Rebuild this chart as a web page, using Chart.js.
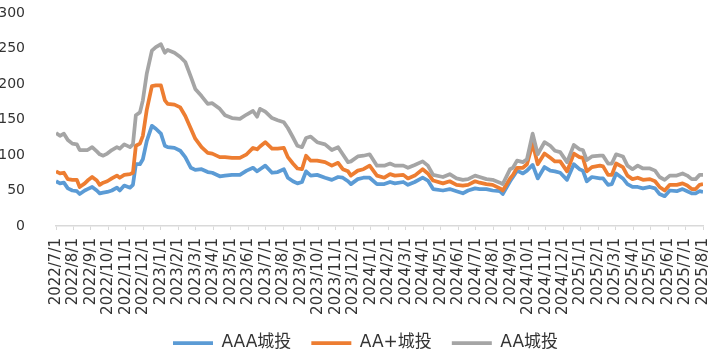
<!DOCTYPE html>
<html><head><meta charset="utf-8">
<script src="https://cdn.jsdelivr.net/npm/chart.js@4"></script>
<style>html,body{margin:0;padding:0;background:#fff}</style>
</head><body>
<canvas id="c" width="719" height="355"></canvas>
<script>
const dates = [
'2022-07-01','2022-07-08','2022-07-15','2022-07-22','2022-07-30','2022-08-07','2022-08-12','2022-08-21','2022-08-26',
'2022-09-03','2022-09-11','2022-09-16','2022-09-22','2022-09-29','2022-10-07','2022-10-16','2022-10-21','2022-10-29',
'2022-11-08','2022-11-13','2022-11-18','2022-11-25','2022-11-30','2022-12-07','2022-12-16','2022-12-23',
'2023-01-01','2023-01-08','2023-01-13','2023-01-25','2023-02-04','2023-02-12','2023-02-21','2023-02-28',
'2023-03-11','2023-03-22','2023-03-30','2023-04-12','2023-04-21','2023-05-03','2023-05-17','2023-05-29',
'2023-06-09','2023-06-16','2023-06-21','2023-06-30','2023-07-12','2023-07-22','2023-08-02','2023-08-09',
'2023-08-18','2023-08-26','2023-09-03','2023-09-10','2023-09-18','2023-09-29','2023-10-13','2023-10-25',
'2023-11-05','2023-11-13','2023-11-22','2023-11-27','2023-12-09','2023-12-19','2023-12-30',
'2024-01-12','2024-01-25','2024-02-04','2024-02-12','2024-02-26','2024-03-05','2024-03-17','2024-03-31',
'2024-04-09','2024-04-18','2024-05-05','2024-05-17','2024-05-29','2024-06-09','2024-06-18','2024-06-30',
'2024-07-08','2024-07-20','2024-07-31','2024-08-13','2024-08-18','2024-08-31','2024-09-05','2024-09-12',
'2024-09-22','2024-09-29','2024-10-09','2024-10-18','2024-10-30','2024-11-09','2024-11-17','2024-11-26',
'2024-12-08','2024-12-20','2024-12-30','2025-01-05','2025-01-12','2025-01-21','2025-02-04','2025-02-09',
'2025-02-17','2025-02-23','2025-03-02','2025-03-14','2025-03-22','2025-03-31','2025-04-09','2025-04-18',
'2025-04-30','2025-05-09','2025-05-17','2025-05-26','2025-06-04','2025-06-16','2025-06-26','2025-07-04',
'2025-07-12','2025-07-19','2025-07-26','2025-08-01'];

const aaa = [
63,60,61,53,50,49,45,50,52,
55,50,46,47,48,50,54,50,57,
54,58,87,87,94,120,141,137,
130,113,111,110,106,97,82,79,
80,76,75,70,71,72,72,78,
82,77,80,85,75,76,80,68,
63,60,62,77,71,72,68,65,
69,68,63,59,66,68,68,
59,59,62,60,62,58,62,68,
64,52,50,52,49,46,50,53,
52,52,50,49,45,63,69,78,
74,78,86,67,83,78,77,75,
65,87,80,78,63,69,67,67,
58,59,74,67,59,55,55,53,
55,53,45,42,50,49,52,49,
46,46,49,48];

const aaPlus = [
77,74,75,66,65,65,55,60,64,
69,64,58,61,63,67,71,68,72,
73,75,113,116,127,164,197,198,
198,177,172,171,167,155,137,123,
111,103,102,97,97,96,96,101,
110,108,112,118,109,109,110,97,
88,81,80,99,92,92,90,85,
89,80,77,71,78,80,85,
71,68,73,71,72,67,71,80,
74,64,60,63,58,57,58,63,
61,59,58,53,50,67,72,82,
82,87,116,87,102,96,91,91,
77,102,97,96,77,83,85,84,
72,72,88,83,71,66,68,65,
66,63,55,50,58,58,60,57,
52,52,58,59];

const aa = [
131,127,130,121,116,115,107,107,107,
111,105,101,99,102,107,111,109,115,
111,115,156,160,177,215,247,252,
256,244,248,244,238,231,210,193,
183,172,173,165,156,152,151,157,
162,154,165,161,152,149,146,138,
125,113,111,124,126,118,115,107,
111,101,90,91,98,99,101,
85,85,88,85,85,82,86,91,
85,72,69,73,67,65,66,71,
69,66,65,61,59,80,82,92,
90,94,130,101,118,113,106,104,
90,114,108,107,93,98,99,99,
88,88,101,98,85,80,85,81,
81,78,69,65,71,71,74,71,
66,66,72,72];

const monthLabels = [
'2022/7/1','2022/8/1','2022/9/1','2022/10/1','2022/11/1','2022/12/1',
'2023/1/1','2023/2/1','2023/3/1','2023/4/1','2023/5/1','2023/6/1','2023/7/1','2023/8/1','2023/9/1','2023/10/1','2023/11/1','2023/12/1',
'2024/1/1','2024/2/1','2024/3/1','2024/4/1','2024/5/1','2024/6/1','2024/7/1','2024/8/1','2024/9/1','2024/10/1','2024/11/1','2024/12/1',
'2025/1/1','2025/2/1','2025/3/1','2025/4/1','2025/5/1','2025/6/1','2025/7/1','2025/8/1'];

const seriesNames = ['AAA城投','AA+城投','AA城投'];
const seriesColors = ['#5B9BD5','#ED7D31','#A5A5A5'];
const yTicks = [0,50,100,150,200,250,300];

function monthPos(s){
  const [y,m,d] = s.split('-').map(Number);
  const dim = new Date(y, m, 0).getDate();
  return (y-2022)*12 + (m-7) + (d-1)/dim;
}
const toPts = arr => arr.map((v,i)=>({x: monthPos(dates[i]), y: v}));

const FONT = '"DejaVu Sans","Noto Sans CJK SC",sans-serif';
const TXT = '#333333';

const mk = (i, arr) => ({
  label: seriesNames[i], data: toPts(arr),
  borderColor: seriesColors[i], backgroundColor: seriesColors[i],
  borderWidth: 3.75, pointBorderWidth: 3.75, pointRadius: 0, pointHoverRadius: 0,
  tension: 0, borderJoinStyle: 'round', borderCapStyle: 'butt',
  order: 3 - i
});

const legendShift = {
  id: 'legendShift',
  afterLayout(chart){
    const lg = chart.legend;
    if (lg) { lg.left = 153; }
  }
};

new Chart(document.getElementById('c'), {
  type: 'line',
  data: { datasets: [mk(0, aaa), mk(1, aaPlus), mk(2, aa)] },
  plugins: [legendShift],
  options: {
    responsive: false, animation: false, devicePixelRatio: 1,
    layout: { padding: { left: 0, right: 16, top: 13, bottom: -6.5 } },
    plugins: {
      tooltip: { enabled: false },
      legend: {
        position: 'bottom', align: 'start',
        labels: {
          usePointStyle: true, pointStyle: 'line', pointStyleWidth: 40,
          padding: 20, color: TXT,
          font: { family: FONT, size: 17 },
          sort: (a, b) => a.datasetIndex - b.datasetIndex
        }
      }
    },
    scales: {
      x: {
        type: 'linear', min: 0, max: monthLabels.length - 1,
        afterBuildTicks: (s) => { s.ticks = monthLabels.map((_, i) => ({ value: i })); },
        afterFit: (s) => { s.paddingLeft = 0; s.paddingRight = 0; s.height = 88.5; },
        ticks: {
          autoSkip: false, maxRotation: 90, minRotation: 90, padding: 8,
          color: TXT, font: { family: FONT, size: 15 },
          callback: (v) => monthLabels[v]
        },
        grid: { display: true, drawOnChartArea: false, drawTicks: true, tickLength: 4, color: '#d9d9d9' },
        border: { display: true, color: '#d9d9d9', width: 1.5 }
      },
      y: {
        min: yTicks[0], max: yTicks[yTicks.length - 1],
        afterBuildTicks: (s) => { s.ticks = yTicks.map(v => ({ value: v })); },
        afterFit: (s) => { s.paddingTop = 0; s.paddingBottom = 0; s.width = 56; },
        ticks: { padding: 23, color: TXT, font: { family: FONT, size: 14 } },
        grid: { display: false },
        border: { display: false }
      }
    }
  }
});
</script>
</body></html>
